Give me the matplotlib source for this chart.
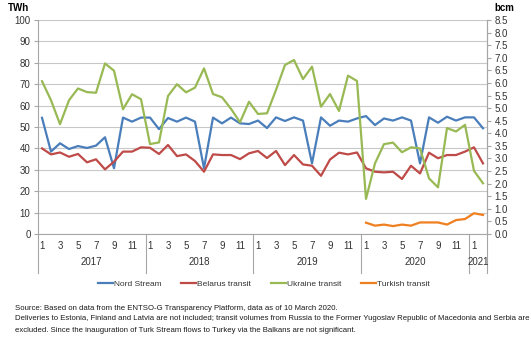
import matplotlib
matplotlib.use('Agg')
import matplotlib.pyplot as plt
import numpy as np
from matplotlib.lines import Line2D

plt.rcParams['font.family'] = ['Liberation Sans', 'DejaVu Sans']

# monthly flows, Jan 2017 - Feb 2021 (TWh)
years = [2017, 2018, 2019, 2020, 2021]
nord_stream = [54.3, 38.5, 42.4, 39.7, 41.1, 40.2, 41.3, 45.2, 30.7, 54.4, 52.5, 54.4,
               54.4, 49.0, 54.2, 52.5, 54.4, 52.5, 30.7, 54.4, 51.7, 54.4, 51.7, 51.4,
               53.0, 49.5, 54.5, 52.8, 54.5, 53.0, 33.0, 54.5, 50.6, 53.0, 52.5, 54.0,
               55.1, 50.9, 54.0, 53.0, 54.5, 53.0, 33.0, 54.5, 52.0, 54.8, 53.0, 54.5,
               54.5, 49.4]
belarus = [40.0, 37.2, 38.1, 36.1, 37.4, 33.5, 34.9, 30.2, 33.8, 38.5, 38.5, 40.5,
           40.3, 37.4, 41.6, 36.4, 37.2, 34.1, 29.1, 37.2, 36.9, 36.9, 35.0, 37.7,
           38.8, 35.5, 38.8, 32.2, 36.9, 32.5, 31.9, 27.2, 34.8, 38.0, 37.2, 38.1,
           30.7, 29.1, 28.8, 29.1, 25.7, 31.9, 28.3, 38.0, 35.4, 36.9, 36.9, 38.5,
           40.5, 33.0]
ukraine = [71.4, 62.5, 51.3, 62.5, 68.0, 66.3, 66.0, 79.7, 76.3, 58.3, 65.3, 63.0,
           42.0, 42.8, 64.5, 70.0, 66.2, 68.4, 77.4, 65.4, 63.9, 58.5, 52.2, 61.8,
           56.1, 56.4, 67.3, 79.0, 81.3, 72.4, 78.2, 59.5, 65.4, 57.5, 74.0, 71.5,
           16.4, 33.0, 42.0, 42.7, 38.2, 40.5, 40.0, 26.0, 21.8, 49.5, 47.9, 51.0,
           29.5, 23.7]
turkish_start = 36
turkish = [5.3, 3.9, 4.4, 3.7, 4.4, 3.9, 5.4, 5.4, 5.4, 4.4, 6.5, 7.0, 9.7, 8.9]

n = len(nord_stream)
x = np.arange(n)
xt = np.arange(turkish_start, turkish_start + len(turkish))

fig = plt.figure(figsize=(5.31, 3.5), dpi=100)
ax = fig.add_axes([37.5 / 531, 1 - 234 / 350, 450 / 531, 214 / 350])

grey = '#a6a6a6'
txt = '#333333'
ax.plot(x, nord_stream, color='#4a7ebb', lw=1.6, label='Nord Stream')
ax.plot(x, belarus, color='#be4b48', lw=1.6, label='Belarus transit')
ax.plot(x, ukraine, color='#98b954', lw=1.6, label='Ukraine transit')
ax.plot(xt, turkish, color='#f07f1f', lw=1.6, label='Turkish transit')

ax.set_xlim(-0.5, n - 0.5)
ax.set_ylim(0, 100)
ax.set_yticks(np.arange(0, 101, 10))
ax.grid(axis='y', color='#c8c8c8', lw=0.8)
ax.set_axisbelow(True)
ax.tick_params(axis='y', labelsize=7, colors=grey, labelcolor=txt, length=3, width=0.8, pad=2)

ax.spines['top'].set_visible(False)
for s in ['left', 'bottom', 'right']:
    ax.spines[s].set_color(grey)
    ax.spines[s].set_linewidth(0.8)

# month ticks (odd months) and year groups
ticks = [i for i in x if (i % 12) % 2 == 0]
ax.set_xticks(ticks)
ax.set_xticklabels([str(i % 12 + 1) for i in ticks])
ax.tick_params(axis='x', length=0, labelsize=7, labelcolor=txt, pad=5)

trans = ax.get_xaxis_transform()
bounds = [-0.5] + [12 * k - 0.5 for k in range(1, len(years))] + [n - 0.5]
for b in bounds:
    ax.add_line(Line2D([b, b], [0, -0.18], transform=trans, color=grey, lw=0.8, clip_on=False))
for k, yr in enumerate(years):
    c = (bounds[k] + bounds[k + 1]) / 2
    ax.text(c, -0.13, str(yr), transform=trans, ha='center', va='center', fontsize=7, color=txt)

ax2 = ax.twinx()
ax2.set_ylim(0, 8.5)
ax2.set_yticks(np.arange(0, 8.51, 0.5))
ax2.set_yticklabels([f'{v:.1f}' for v in np.arange(0, 8.51, 0.5)])
ax2.tick_params(axis='y', labelsize=7, colors=grey, labelcolor=txt, length=3, width=0.8, pad=2)
for s in ['top', 'left', 'bottom']:
    ax2.spines[s].set_visible(False)
ax2.spines['right'].set_color(grey)
ax2.spines['right'].set_linewidth(0.8)

fig.text(8 / 531, 1 - 8 / 350, 'TWh', fontsize=7, fontweight='bold', va='center', ha='left')
fig.text(494 / 531, 1 - 8 / 350, 'bcm', fontsize=7, fontweight='bold', va='center', ha='left')

leg = fig.legend(loc='center', bbox_to_anchor=(264 / 531, 1 - 284 / 350), ncol=4, frameon=False,
                 fontsize=6, handlelength=1.8, handletextpad=0.1, columnspacing=2.4)
for t in leg.get_texts():
    t.set_color(txt)

notes = ['Source: Based on data from the ENTSO-G Transparency Platform, data as of 10 March 2020.',
         'Deliveries to Estonia, Finland and Latvia are not included; transit volumes from Russia to the Former Yugoslav Republic of Macedonia and Serbia are',
         'excluded. Since the inauguration of Turk Stream flows to Turkey via the Balkans are not significant.']
for k, line in enumerate(notes):
    fig.text(15 / 531, 1 - (308 + 11 * k) / 350, line, fontsize=5.6, va='center', ha='left',
             color='#1a1a1a')

fig.savefig('out.png', dpi=100)
